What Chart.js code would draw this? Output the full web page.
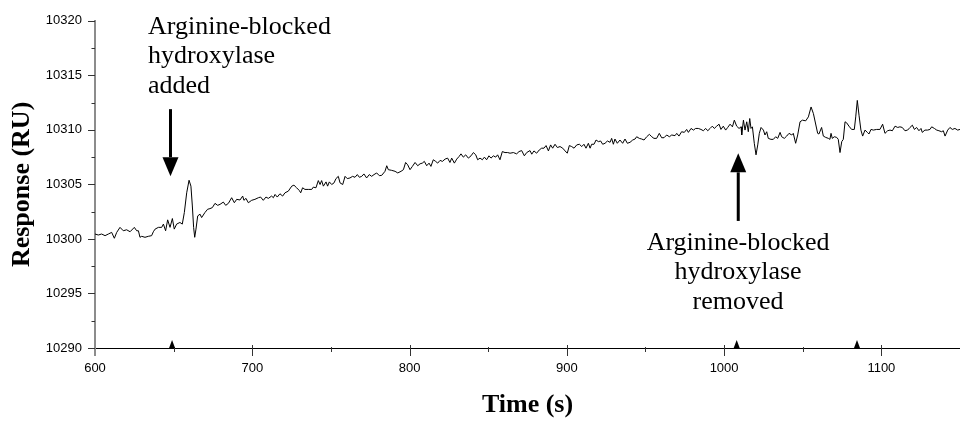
<!DOCTYPE html>
<html>
<head>
<meta charset="utf-8">
<script src="https://cdn.jsdelivr.net/npm/chart.js@4.4.1/dist/chart.umd.min.js"></script>
<style>
html, body { margin: 0; padding: 0; background: #fff; }
</style>
</head>
<body>
<canvas id="chart1" width="960" height="425"></canvas>
<script>
// sensorgram trace in chunks
var timeA = [600.0, 602.1, 604.2, 606.4, 608.5, 610.6, 612.3, 613.8, 615.9, 618.0, 620.1, 622.3, 625.0, 626.5, 627.6, 628.6, 629.7, 631.8, 633.9, 636.0, 637.1, 638.2, 640.3, 642.4, 643.5, 644.9, 646.2, 647.7, 649.2, 650.4, 651.9, 654.0, 655.5, 656.8, 658.3, 659.8, 661.0, 661.9, 662.7, 663.4, 664.2, 665.3, 666.8, 667.8, 669.9, 671.6, 673.1, 674.6, 676.3, 678.0, 679.5, 681.6, 683.1, 684.8, 686.9, 688.6, 690.1, 692.2];
var respA = [10300.45, 10300.36, 10300.45, 10300.30, 10300.45, 10300.60, 10300.06, 10300.60, 10301.06, 10300.75, 10300.84, 10300.66, 10301.06, 10300.75, 10300.75, 10300.15, 10300.24, 10300.15, 10300.24, 10300.30, 10300.66, 10300.90, 10301.06, 10301.06, 10301.36, 10300.75, 10301.75, 10301.06, 10301.87, 10300.90, 10301.36, 10301.51, 10301.36, 10302.42, 10304.23, 10305.38, 10304.84, 10303.02, 10301.06, 10300.15, 10300.90, 10302.11, 10302.27, 10301.96, 10302.42, 10302.72, 10302.78, 10302.87, 10303.26, 10303.08, 10303.17, 10303.38, 10303.08, 10303.26, 10303.78, 10303.32, 10303.63, 10303.57];

var timeB = [693.9, 694.7, 696.0, 697.5, 699.6, 701.7, 703.9, 705.3, 707.0, 708.7, 710.2, 712.3, 713.4, 714.5, 715.9, 717.6, 719.3, 720.8, 722.9, 725.1, 726.5, 728.2, 729.9, 730.8, 732.0, 733.5, 735.6, 737.8, 738.8, 740.5, 742.0, 743.1, 744.1, 745.2, 746.9, 747.9, 749.0, 750.5, 752.0, 753.2, 754.7, 755.8, 757.5, 759.0, 760.4, 762.1, 763.8, 765.3, 766.8, 768.1, 769.6, 771.0, 772.7, 774.4, 775.9, 777.4, 779.1, 780.8, 782.3, 784.4];
var respB = [10303.93, 10303.54, 10303.72, 10303.32, 10303.54, 10303.63, 10303.78, 10303.84, 10303.54, 10303.84, 10303.72, 10303.93, 10303.78, 10304.08, 10303.84, 10304.14, 10303.93, 10304.23, 10304.38, 10304.84, 10304.93, 10304.69, 10304.44, 10304.23, 10304.69, 10304.54, 10304.54, 10304.54, 10304.75, 10304.69, 10305.35, 10304.99, 10305.35, 10304.84, 10305.23, 10304.84, 10305.23, 10304.99, 10305.14, 10305.53, 10305.74, 10305.14, 10304.99, 10305.74, 10305.53, 10305.59, 10305.74, 10305.65, 10305.90, 10305.65, 10305.74, 10305.96, 10305.59, 10305.90, 10305.74, 10305.90, 10306.05, 10305.80, 10305.83, 10306.20];

var timeC = [785.5, 786.5, 788.6, 790.8, 792.5, 794.6, 796.1, 797.5, 798.8, 800.3, 801.8, 803.5, 805.2, 806.7, 808.1, 809.4, 810.9, 812.4, 813.6, 815.1, 816.6, 817.9, 819.4, 820.9, 822.6, 824.2, 825.7, 826.8, 828.5, 830.0, 831.5, 832.7, 834.2, 835.7, 837.4, 839.1, 840.6, 842.1, 843.3, 844.8, 846.3, 847.6, 849.0, 850.5, 851.8, 853.3, 854.8, 856.0, 857.5, 859.0, 860.7, 862.4, 863.9, 866.0, 868.1, 869.6, 871.3, 873.0, 874.5, 876.6];
var respC = [10306.71, 10306.35, 10306.29, 10306.20, 10306.05, 10306.20, 10306.35, 10307.01, 10306.80, 10306.35, 10306.65, 10307.01, 10306.71, 10306.89, 10306.95, 10307.11, 10306.71, 10306.95, 10306.65, 10307.26, 10307.11, 10306.95, 10307.20, 10307.11, 10307.32, 10307.41, 10307.01, 10307.41, 10306.95, 10307.32, 10307.56, 10307.80, 10307.50, 10307.71, 10307.41, 10307.62, 10307.92, 10307.71, 10307.26, 10307.41, 10307.26, 10307.50, 10307.26, 10307.62, 10307.41, 10307.62, 10307.50, 10307.71, 10307.26, 10308.01, 10307.92, 10307.92, 10307.86, 10307.92, 10307.80, 10308.01, 10308.10, 10307.62, 10307.92, 10308.10];

var timeD = [877.7, 879.1, 880.8, 882.5, 884.0, 885.5, 886.8, 888.3, 889.7, 891.0, 892.5, 894.0, 895.7, 897.4, 898.9, 900.3, 901.6, 903.1, 904.6, 906.3, 908.0, 909.5, 910.9, 912.2, 913.7, 914.8, 915.8, 917.3, 918.6, 920.1, 921.5, 922.8, 924.3, 925.8, 927.5, 928.5, 929.6, 930.6, 932.1, 933.8, 935.5, 937.0, 938.5, 940.2, 941.9, 943.4, 944.4, 946.1, 947.6, 949.1, 950.8, 952.5, 954.0, 955.4, 957.1, 958.8, 960.3, 961.8, 963.5, 965.2, 966.7, 968.8];
var respD = [10307.77, 10308.07, 10307.86, 10308.16, 10308.32, 10308.32, 10308.56, 10308.07, 10308.62, 10308.32, 10308.68, 10308.38, 10308.47, 10308.32, 10308.07, 10307.86, 10308.56, 10308.47, 10308.32, 10308.62, 10308.68, 10308.47, 10308.68, 10308.32, 10308.77, 10308.32, 10308.68, 10308.68, 10309.07, 10308.92, 10308.98, 10308.68, 10308.77, 10308.98, 10308.86, 10309.22, 10308.68, 10309.16, 10308.77, 10309.07, 10308.77, 10309.16, 10308.77, 10308.86, 10309.07, 10309.16, 10309.37, 10309.22, 10309.16, 10309.07, 10309.37, 10309.59, 10309.37, 10309.22, 10309.22, 10309.68, 10309.28, 10309.28, 10309.53, 10309.37, 10309.53, 10309.47];

var timeE = [969.9, 971.3, 973.0, 974.7, 976.2, 977.3, 979.0, 980.5, 981.9, 983.6, 985.3, 986.8, 988.3, 989.6, 991.1, 992.5, 993.8, 995.3, 996.8, 998.0, 999.5, 1001.0, 1002.3, 1003.8, 1005.3, 1006.5, 1008.0, 1009.5, 1010.8, 1011.2, 1012.3, 1013.3, 1014.4, 1015.4, 1016.3, 1017.1, 1018.0, 1019.2, 1020.3, 1021.4, 1022.4, 1023.5, 1025.0, 1026.0, 1027.1, 1028.1, 1029.8, 1031.3, 1032.8, 1034.1, 1035.6, 1036.6, 1038.3, 1039.8, 1041.3, 1043.0, 1044.0, 1045.5, 1046.8, 1048.3, 1049.8, 1051.9, 1053.6, 1055.3, 1056.8];
var respE = [10309.68, 10309.43, 10309.83, 10309.77, 10310.04, 10309.77, 10310.13, 10309.98, 10310.13, 10310.13, 10310.04, 10309.92, 10310.13, 10309.92, 10310.13, 10310.34, 10310.13, 10310.34, 10310.52, 10310.04, 10310.34, 10309.98, 10310.22, 10310.52, 10310.28, 10310.89, 10310.34, 10310.13, 10310.28, 10309.53, 10310.89, 10309.98, 10310.74, 10309.83, 10311.04, 10310.13, 10310.28, 10308.77, 10307.71, 10308.62, 10309.68, 10310.22, 10309.98, 10309.53, 10309.83, 10309.22, 10309.13, 10309.13, 10309.37, 10309.22, 10309.77, 10309.37, 10309.22, 10309.43, 10309.68, 10309.53, 10309.68, 10308.77, 10309.53, 10310.74, 10310.89, 10310.83, 10311.19, 10312.10, 10311.49];

var timeF = [1059.5, 1060.3, 1062.0, 1063.1, 1064.6, 1066.3, 1067.3, 1068.0, 1068.8, 1070.1, 1071.6, 1072.6, 1073.7, 1074.8, 1075.8, 1076.9, 1077.9, 1079.4, 1081.1, 1082.8, 1083.7, 1084.7, 1085.8, 1087.0, 1088.1, 1089.6, 1091.1, 1092.1, 1093.4, 1094.9, 1097.0, 1099.1, 1100.8, 1102.3, 1104.0, 1105.5, 1107.0, 1108.7, 1110.4, 1111.8, 1113.3, 1115.0, 1116.7, 1118.2, 1119.7, 1121.0, 1122.4, 1123.9, 1125.2, 1126.0, 1127.7, 1129.4, 1130.9, 1132.0, 1133.7, 1135.2, 1136.6, 1138.3, 1139.4, 1140.5, 1142.2, 1143.6, 1145.1, 1146.8, 1148.5, 1150.0];
var respF = [10309.68, 10309.62, 10310.22, 10309.43, 10309.31, 10309.22, 10309.13, 10309.68, 10309.22, 10309.37, 10309.31, 10309.13, 10307.92, 10308.92, 10309.13, 10310.74, 10310.65, 10310.34, 10310.04, 10310.04, 10311.19, 10312.70, 10311.34, 10309.98, 10309.43, 10309.98, 10309.77, 10309.62, 10310.04, 10309.98, 10310.04, 10310.04, 10310.52, 10309.68, 10309.92, 10309.98, 10309.92, 10310.34, 10310.22, 10310.28, 10310.22, 10309.92, 10309.98, 10310.22, 10310.43, 10310.04, 10310.22, 10309.92, 10310.13, 10309.77, 10309.98, 10309.98, 10310.04, 10310.28, 10310.13, 10309.98, 10309.92, 10309.83, 10309.92, 10309.43, 10309.98, 10310.22, 10310.04, 10310.13, 10309.98, 10310.04];

var xTicks = [600, 700, 800, 900, 1000, 1100];
var yTicks = [10290, 10295, 10300, 10305, 10310, 10315, 10320];
var markerTimes = [649, 1008, 1084.5];   // little triangles on the time axis

var noteAdded = ["Arginine-blocked", "hydroxylase", "added"];
var noteRemoved = ["Arginine-blocked", "hydroxylase", "removed"];

var times = timeA.concat(timeB, timeC, timeD, timeE, timeF);
var resp = respA.concat(respB, respC, respD, respE, respF);
var points = times.map(function (t, i) { return { x: t, y: resp[i] }; });

var tickFont = "'Liberation Sans Narrow', 'Arial Narrow', 'Liberation Sans', sans-serif";
var serif = "'Liberation Serif', 'Times New Roman', serif";

function plainLabel(v) { return String(v); }

function arrow(ctx, x, yTail, yTip) {
  var dir = yTip > yTail ? 1 : -1;
  var headH = 19, headW = 8;
  ctx.lineWidth = 3;
  ctx.beginPath();
  ctx.moveTo(x, yTail);
  ctx.lineTo(x, yTip - dir * headH);
  ctx.stroke();
  ctx.beginPath();
  ctx.moveTo(x, yTip);
  ctx.lineTo(x - headW, yTip - dir * headH);
  ctx.lineTo(x + headW, yTip - dir * headH);
  ctx.closePath();
  ctx.fill();
}

var extras = {
  id: "extras",
  afterDraw: function (chart) {
    var ctx = chart.ctx;
    var xs = chart.scales.x, ys = chart.scales.y;
    var a = chart.chartArea;
    ctx.save();

    // y axis runs a bit past the time axis
    ctx.strokeStyle = "#8c8c8c";
    ctx.lineWidth = 2;
    ctx.beginPath();
    ctx.moveTo(a.left, a.bottom);
    ctx.lineTo(a.left, a.bottom + 8);
    ctx.stroke();

    ctx.strokeStyle = "#333";
    ctx.lineWidth = 1;
    ctx.beginPath();
    yTicks.forEach(function (v, i) {
      var y = Math.round(ys.getPixelForValue(v)) + 0.5;
      ctx.moveTo(a.left - 7, y);
      ctx.lineTo(a.left, y);
      if (i < yTicks.length - 1) {
        var ym = Math.round(ys.getPixelForValue(v + 2.5)) + 0.5;
        ctx.moveTo(a.left - 3.5, ym);
        ctx.lineTo(a.left, ym);
      }
    });
    xTicks.forEach(function (v) {
      var x = Math.round(xs.getPixelForValue(v)) + 0.5;
      if (v > 600) {
        ctx.moveTo(x, a.bottom - 3);
        ctx.lineTo(x, a.bottom + 8);
      }
      var xm = Math.round(xs.getPixelForValue(v + 50)) + 0.5;
      ctx.moveTo(xm, a.bottom - 1);
      ctx.lineTo(xm, a.bottom + 4);
    });
    ctx.stroke();

    // event markers
    ctx.fillStyle = "#000";
    markerTimes.forEach(function (t) {
      var x = xs.getPixelForValue(t);
      ctx.beginPath();
      ctx.moveTo(x - 3, a.bottom);
      ctx.lineTo(x + 3, a.bottom);
      ctx.lineTo(x, a.bottom - 8);
      ctx.closePath();
      ctx.fill();
    });

    // arrows
    ctx.strokeStyle = "#000";
    arrow(ctx, xs.getPixelForValue(648), ys.getPixelForValue(10311.9), ys.getPixelForValue(10305.75));
    arrow(ctx, xs.getPixelForValue(1009), ys.getPixelForValue(10301.65), ys.getPixelForValue(10307.85));

    // notes
    ctx.font = "26px " + serif;
    ctx.textBaseline = "alphabetic";
    ctx.textAlign = "left";
    var x1 = xs.getPixelForValue(633.7), y1 = ys.getPixelForValue(10318.8);
    noteAdded.forEach(function (s, i) { ctx.fillText(s, x1, y1 + i * 29.5); });
    ctx.textAlign = "center";
    var x2 = xs.getPixelForValue(1008.9), y2 = ys.getPixelForValue(10299.03);
    noteRemoved.forEach(function (s, i) { ctx.fillText(s, x2, y2 + i * 29.5); });

    ctx.restore();
  }
};

var ctx = document.getElementById("chart1").getContext("2d");
var chart1 = new Chart(ctx, {
  type: "line",
  data: {
    datasets: [{
      label: "Response",
      data: points,
      borderColor: "#000",
      borderWidth: 1,
      pointRadius: 0,
      tension: 0,
      fill: false
    }]
  },
  options: {
    responsive: false,
    animation: false,
    layout: { padding: { top: 17, left: 0, right: 0, bottom: 0 } },
    plugins: { legend: { display: false }, tooltip: { enabled: false } },
    scales: {
      x: {
        type: "linear",
        min: 600,
        max: 1150,
        afterBuildTicks: function (s) { s.ticks = xTicks.map(function (v) { return { value: v }; }); },
        afterFit: function (s) { s.height = 77; },
        grid: { display: false, drawTicks: false },
        border: { display: true, color: "#000", width: 1 },
        ticks: { padding: 13, maxRotation: 0, color: "#000", font: { family: tickFont, size: 13 }, callback: plainLabel },
        title: { display: true, text: "Time (s)", color: "#000", font: { family: serif, size: 26, weight: "bold" }, padding: { top: 0, bottom: 4 } }
      },
      y: {
        min: 10290,
        max: 10320,
        afterBuildTicks: function (s) { s.ticks = yTicks.map(function (v) { return { value: v }; }); },
        afterFit: function (s) { s.width = 95; },
        grid: { display: false, drawTicks: false },
        border: { display: true, color: "#8c8c8c", width: 2 },
        ticks: { padding: 13, color: "#000", font: { family: tickFont, size: 13 }, callback: plainLabel },
        title: { display: true, text: "Response (RU)", color: "#000", font: { family: serif, size: 26, weight: "bold" }, padding: { top: 7, bottom: 0 } }
      }
    }
  },
  plugins: [extras]
});
</script>
</body>
</html>
